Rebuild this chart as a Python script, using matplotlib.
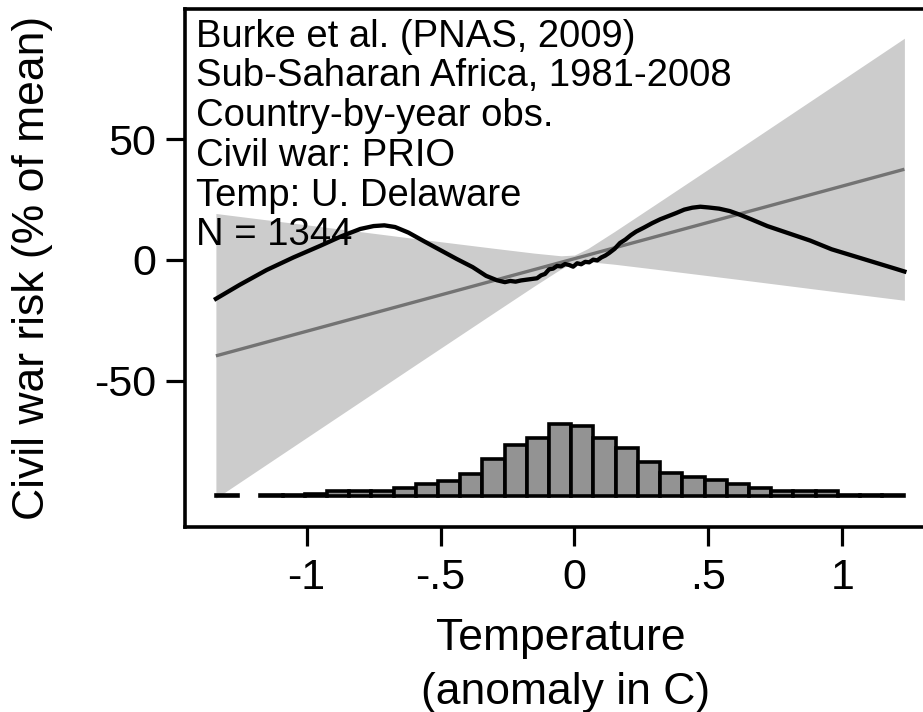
import matplotlib
matplotlib.use("Agg")
import matplotlib.pyplot as plt
import numpy as np

plt.rcParams['font.family'] = ['Liberation Sans', 'DejaVu Sans']

# ---------------- data ----------------
# non-parametric (black) curve
curve_x = [-1.339, -1.25, -1.15, -1.05, -0.95, -0.87, -0.80, -0.75, -0.71, -0.67,
           -0.62, -0.56, -0.50, -0.44, -0.38, -0.33, -0.29, -0.26, -0.24, -0.22,
           -0.20, -0.18, -0.16, -0.14, -0.125, -0.11, -0.095, -0.08, -0.065, -0.05,
           -0.035, -0.02, -0.005, 0.01, 0.025, 0.04, 0.055, 0.07, 0.085, 0.10,
           0.115, 0.13, 0.15, 0.17, 0.19, 0.21, 0.23, 0.26, 0.29, 0.32,
           0.35, 0.38, 0.41, 0.44, 0.47, 0.50, 0.54, 0.58, 0.62, 0.66,
           0.72, 0.80, 0.88, 0.96, 1.04, 1.12, 1.20, 1.232]
curve_y = [-16.1, -10.3, -4.2, 1.0, 5.8, 9.8, 12.8, 14.0, 14.3, 13.6,
           11.3, 7.6, 4.0, 0.4, -3.0, -6.6, -8.4, -9.2, -8.7, -9.0,
           -8.5, -8.2, -7.9, -7.6, -6.4, -5.8, -3.9, -3.6, -2.5, -2.7,
           -1.7, -2.1, -2.8, -1.4, -1.8, -0.8, -1.0, 0.1, -0.2, 1.0,
           1.8, 2.9, 4.6, 7.0, 8.4, 10.2, 11.7, 13.4, 15.2, 16.8,
           18.1, 19.4, 20.8, 21.6, 22.0, 21.7, 21.2, 20.2, 18.6, 16.8,
           14.0, 11.0, 8.0, 4.4, 1.7, -1.0, -3.7, -4.8]

# linear fit and its confidence band
fit_x = [-1.339, 1.232]
fit_y = [-39.7, 37.5]
band_x = [-1.339, -1.0, -0.6, -0.3, -0.15, -0.05, 0.0, 0.05, 0.15, 0.3, 0.6, 1.0, 1.232]
band_lo = [-98.6, -73.5, -43.9, -21.8, -10.8, -3.7, -1.0, -0.7, -1.8, -3.8, -7.9, -13.5, -16.7]
band_hi = [19.2, 14.5, 8.9, 4.8, 2.8, 1.7, 2.0, 4.7, 11.8, 22.8, 44.9, 74.5, 91.7]

# histogram of temperature anomalies (counts per bin, 31 bins over the data range)
hist_range = (-1.339, 1.232)
hist_counts = [1, 0, 1, 1, 3, 11, 11, 11, 18, 26,
               34, 50, 84, 116, 131, 164, 158, 131, 108, 76,
               51, 42, 36, 26, 18, 11, 11, 11, 1, 1, 1]

xtick_vals = [-1, -0.5, 0, 0.5, 1]
xtick_labels = ['-1', '-.5', '0', '.5', '1']
ytick_vals = [-50, 0, 50]
ytick_labels = ['-50', '0', '50']

note_lines = ['Burke et al. (PNAS, 2009)',
              'Sub-Saharan Africa, 1981-2008',
              'Country-by-year obs.',
              'Civil war: PRIO',
              'Temp: U. Delaware',
              'N = 1344']

# ---------------- layout ----------------
W, H = 923, 712
fig = plt.figure(figsize=(W / 100, H / 100), dpi=100)
ax_l, ax_r, ax_t, ax_b = 185, 936, 9, 527
ax = fig.add_axes([ax_l / W, 1 - ax_b / H, (ax_r - ax_l) / W, (ax_b - ax_t) / H])
ax.set_xlim(-1.4544, 1.350)
ax.set_ylim(-110.5, 103.8)

hist_base = -97.5
hist_scale = 0.181

# confidence band
ax.fill_between(band_x, band_lo, band_hi, color='#cccccc', lw=0, zorder=1)
# histogram
edges = np.linspace(hist_range[0], hist_range[1], len(hist_counts) + 1)
width = edges[1] - edges[0]
centers = (edges[:-1] + edges[1:]) / 2
cnt = np.array(hist_counts, dtype=float)
mask = cnt > 0
ax.bar(centers[mask], cnt[mask] * hist_scale, width=width, bottom=hist_base,
       color='#939393', edgecolor='black', linewidth=2.6, zorder=2)
# fit line
ax.plot(fit_x, fit_y, color='#737373', lw=2.4, zorder=3, solid_capstyle='butt')
# curve
ax.plot(curve_x, curve_y, color='black', lw=3.1, zorder=4, solid_joinstyle='round')

# axes styling
for s in ['top', 'left', 'bottom', 'right']:
    ax.spines[s].set_linewidth(2.6)
ax.set_xticks(xtick_vals)
ax.set_xticklabels(xtick_labels)
ax.set_yticks(ytick_vals)
ax.set_yticklabels(ytick_labels)
ax.tick_params(direction='out', length=13.5, width=2.3, labelsize=31, pad=7)
ax.tick_params(axis='x', pad=9)

def px(x, y):
    return x / W, 1 - y / H

# annotation lines
for i, line in enumerate(note_lines):
    fx, fy = px(196, 46.7 + i * 39.7)
    fig.text(fx, fy, line, fontsize=27.5, va='baseline', ha='left', zorder=3.5)

# axis titles
fx, fy = px(560.5, 650)
fig.text(fx, fy, 'Temperature', fontsize=32, ha='center', va='baseline')
fx, fy = px(566, 704)
fig.text(fx, fy, '(anomaly in C)', fontsize=32, ha='center', va='baseline')
fx, fy = px(33, 268)
fig.text(fx, fy, 'Civil war risk (% of mean)', fontsize=32, rotation=90,
         ha='center', va='center')

fig.savefig('out.png', dpi=100)
